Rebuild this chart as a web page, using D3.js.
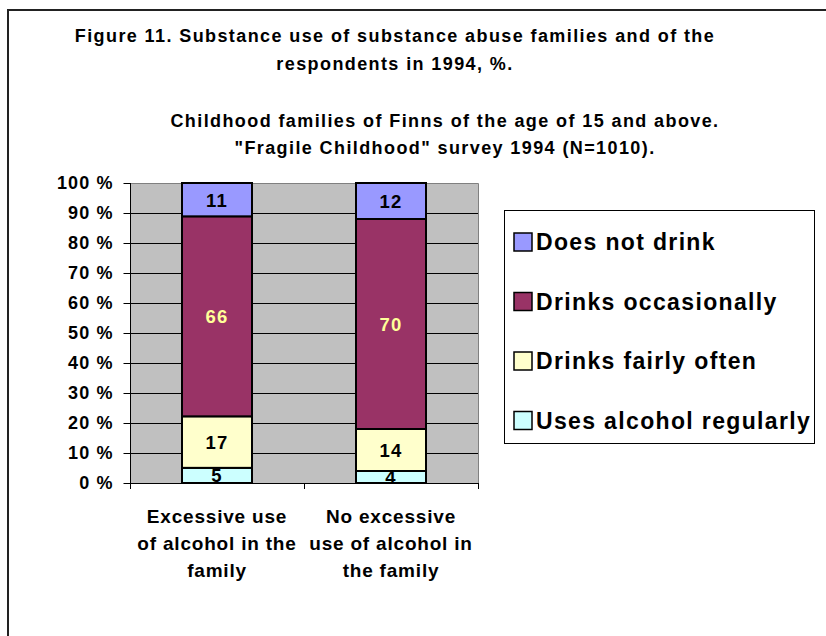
<!DOCTYPE html>
<html>
<head>
<meta charset="utf-8">
<script src="https://cdn.jsdelivr.net/npm/d3@7"></script>
<style>
  html, body { margin: 0; padding: 0; background: #fff; }
  svg { display: block; }
  text { font-family: "Liberation Sans", Arial, sans-serif; font-weight: bold; }
</style>
</head>
<body>
<svg id="chart" width="826" height="636"></svg>
<script>
// ---- Data ----
const categories = [
  ["Excessive use", "of alcohol in the", "family"],
  ["No excessive", "use of alcohol in", "the family"]
];
const categoryKeys = ["excessive", "noExcessive"];
const seriesNames = ["Uses alcohol regularly", "Drinks fairly often", "Drinks occasionally", "Does not drink"];
const usesRegularly   = [5, 4];
const drinksFairly    = [17, 14];
const drinksOccasion  = [66, 70];
const doesNotDrink    = [11, 12];
const seriesColors = ["#CCFFFF", "#FFFFCC", "#993366", "#9999FF"];
const labelColors  = ["#000", "#000", "#FFFF99", "#000"];
const yTicks = [0, 0.1, 0.2, 0.3, 0.4, 0.5, 0.6, 0.7, 0.8, 0.9, 1.0];
const titleLines = ["Figure 11. Substance use of substance abuse families and of the", "respondents in 1994, %."];
const subtitleLines = ["Childhood families of Finns of the age of 15 and above.", "\"Fragile Childhood\" survey 1994 (N=1010)."];

// ---- Build table ----
const seriesValues = [usesRegularly, drinksFairly, drinksOccasion, doesNotDrink];
const table = categoryKeys.map((k, i) => {
  const row = { key: k };
  seriesNames.forEach((s, j) => row[s] = seriesValues[j][i]);
  return row;
});

const svg = d3.select("#chart");

// outer frame
svg.append("path").attr("d", "M8,640 L8,10 L830,10")
  .attr("fill", "none").attr("stroke", "#222").attr("stroke-width", 2);

// titles
svg.append("g").selectAll("text").data(titleLines).join("text")
  .attr("x", 395).attr("y", (d, i) => 42 + i * 28)
  .attr("text-anchor", "middle").attr("font-size", 18).attr("letter-spacing", 1.4).attr("fill", "#000")
  .text(d => d);
svg.append("g").selectAll("text").data(subtitleLines).join("text")
  .attr("x", 445).attr("y", (d, i) => 127 + i * 27)
  .attr("text-anchor", "middle").attr("font-size", 18).attr("letter-spacing", 1.4).attr("fill", "#000")
  .text(d => d);

// scales
const plot = { left: 130, right: 478, top: 183, bottom: 483 };
const x = d3.scaleBand().domain(categoryKeys).range([plot.left, plot.right]).padding(0);
const y = d3.scaleLinear().domain([0, 1]).range([plot.bottom, plot.top]);
const barW = 70;

// plot background
svg.append("rect").attr("x", plot.left).attr("y", plot.top)
  .attr("width", plot.right - plot.left).attr("height", plot.bottom - plot.top)
  .attr("fill", "#C0C0C0");

// grid
svg.append("g").selectAll("line").data(yTicks.filter(t => t > 0 && t < 1)).join("line")
  .attr("x1", plot.left).attr("x2", plot.right)
  .attr("y1", d => Math.round(y(d)) + 0.5).attr("y2", d => Math.round(y(d)) + 0.5)
  .attr("stroke", "#000").attr("stroke-width", 1);

// plot border top/right
svg.append("path")
  .attr("d", `M${plot.left},${plot.top + 0.5} L${plot.right + 0.5},${plot.top + 0.5} L${plot.right + 0.5},${plot.bottom}`)
  .attr("fill", "none").attr("stroke", "#808080").attr("stroke-width", 1);

// stack
const stack = d3.stack().keys(seriesNames).offset(d3.stackOffsetExpand);
const stacked = stack(table);

const bars = svg.append("g");
stacked.forEach((layer, si) => {
  const g = bars.append("g");
  g.selectAll("rect").data(layer).join("rect")
    .attr("x", d => x(d.data.key) + (x.bandwidth() - barW) / 2)
    .attr("y", d => y(d[1]))
    .attr("width", barW)
    .attr("height", d => y(d[0]) - y(d[1]))
    .attr("fill", seriesColors[si])
    .attr("stroke", "#000").attr("stroke-width", 2);
});
stacked.forEach((layer, si) => {
  bars.append("g").selectAll("text").data(layer).join("text")
    .attr("x", d => x(d.data.key) + x.bandwidth() / 2)
    .attr("y", d => (y(d[0]) + y(d[1])) / 2 + 7)
    .attr("text-anchor", "middle").attr("font-size", 18.5)
    .attr("fill", labelColors[si])
    .attr("letter-spacing", 1.2)
    .text(d => d.data[seriesNames[si]]);
});

// y axis
const yAxis = d3.axisLeft(y).tickValues(yTicks).tickSize(7).tickPadding(10)
  .tickFormat(d => Math.round(d * 100) + " %");
const gy = svg.append("g").attr("transform", `translate(${plot.left + 0.5},0)`).call(yAxis);
gy.select(".domain").attr("stroke", "#000").attr("d", `M0,${plot.top}V${plot.bottom + 5}`);
gy.selectAll(".tick line").attr("stroke", "#000");
gy.selectAll(".tick text").attr("font-size", 18).attr("fill", "#000")
  .attr("letter-spacing", 1.1)
  .attr("font-family", "Liberation Sans, Arial, sans-serif").attr("font-weight", "bold");

// x axis (ticks at band boundaries)
const boundaries = [plot.left, ...categoryKeys.map(k => x(k) + x.bandwidth())];
const gx = svg.append("g");
gx.append("line").attr("x1", plot.left).attr("x2", plot.right)
  .attr("y1", plot.bottom + 0.5).attr("y2", plot.bottom + 0.5).attr("stroke", "#000");
gx.selectAll("line.t").data(boundaries).join("line").attr("class", "t")
  .attr("x1", d => Math.round(d) + 0.5).attr("x2", d => Math.round(d) + 0.5)
  .attr("y1", plot.bottom).attr("y2", plot.bottom + 6).attr("stroke", "#000");

// category labels
categoryKeys.forEach((k, i) => {
  svg.append("g").selectAll("text").data(categories[i]).join("text")
    .attr("x", x(k) + x.bandwidth() / 2)
    .attr("y", (d, j) => 523 + j * 27)
    .attr("text-anchor", "middle").attr("font-size", 19).attr("letter-spacing", 0.8).attr("fill", "#000")
    .text(d => d);
});

// legend
const lg = svg.append("g");
lg.append("rect").attr("x", 504.5).attr("y", 210.5).attr("width", 310).attr("height", 233)
  .attr("fill", "#fff").attr("stroke", "#000").attr("stroke-width", 1);
const legendOrder = seriesNames.map((s, i) => i).reverse();
legendOrder.forEach((si, r) => {
  const cy = 242 + r * 59.5;
  lg.append("rect").attr("x", 514).attr("y", cy - 9).attr("width", 18).attr("height", 18)
    .attr("fill", seriesColors[si]).attr("stroke", "#000").attr("stroke-width", 1.5);
  lg.append("text").attr("x", 536).attr("y", cy + 8).attr("font-size", 23)
    .attr("letter-spacing", 1.35).attr("fill", "#000").text(seriesNames[si]);
});
</script>
</body>
</html>
